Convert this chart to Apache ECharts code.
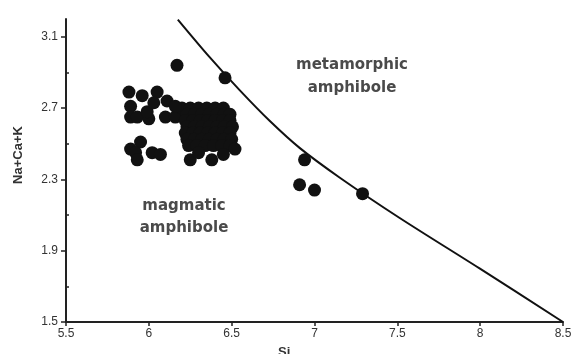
<!DOCTYPE html>
<html>
<head>
<meta charset="utf-8">
<script src="https://cdn.jsdelivr.net/npm/echarts@6/dist/echarts.min.js"></script>
<style>
  html, body { margin: 0; padding: 0; background: #fff; }
  #chart { width: 579px; height: 354px; }
</style>
</head>
<body>
<div id="chart"></div>
<script>
// Si vs Na+Ca+K amphibole samples
var samples = [
  [6.17, 2.94], [6.46, 2.87],
  // upper left group
  [5.88, 2.79], [5.96, 2.77], [6.05, 2.79], [6.11, 2.74], [5.89, 2.71],
  [5.89, 2.65], [5.93, 2.65], [6.0, 2.64], [5.99, 2.68], [6.10, 2.65],
  [6.16, 2.65], [6.20, 2.70], [6.03, 2.73], [6.16, 2.71],
  // lower left group
  [5.95, 2.51], [5.89, 2.47], [5.92, 2.45], [5.93, 2.41], [6.02, 2.45], [6.07, 2.44],
  // dense cluster
  [6.25, 2.70], [6.30, 2.70], [6.35, 2.70], [6.40, 2.70], [6.45, 2.70],
  [6.23, 2.665], [6.275, 2.665], [6.32, 2.665], [6.365, 2.665], [6.41, 2.665], [6.455, 2.665], [6.49, 2.665],
  [6.22, 2.63], [6.265, 2.63], [6.31, 2.63], [6.355, 2.63], [6.40, 2.63], [6.445, 2.63], [6.49, 2.63],
  [6.23, 2.595], [6.275, 2.595], [6.32, 2.595], [6.365, 2.595], [6.41, 2.595], [6.455, 2.595], [6.505, 2.595],
  [6.22, 2.56], [6.265, 2.56], [6.31, 2.56], [6.355, 2.56], [6.40, 2.56], [6.445, 2.56], [6.49, 2.56],
  [6.23, 2.525], [6.275, 2.525], [6.32, 2.525], [6.365, 2.525], [6.41, 2.525], [6.455, 2.525], [6.50, 2.525],
  [6.24, 2.49], [6.29, 2.49], [6.34, 2.49], [6.39, 2.49], [6.44, 2.49], [6.49, 2.49],
  [6.52, 2.47], [6.25, 2.41], [6.38, 2.41], [6.30, 2.45], [6.45, 2.44],
  // near the boundary
  [6.94, 2.41], [6.91, 2.27], [7.0, 2.24], [7.29, 2.22]
];

// boundary curve between magmatic and metamorphic fields
var boundary = [
  [6.175, 3.197], [6.367, 2.986], [6.548, 2.801], [6.729, 2.629], [6.91, 2.477],
  [7.151, 2.311], [7.512, 2.085], [7.994, 1.802], [8.5, 1.5]
];

var yLabels = [1.5, 1.9, 2.3, 2.7, 3.1];
var yMinor = [1.7, 2.1, 2.5, 2.9];

var chart = echarts.init(document.getElementById("chart"));

var option = {
  backgroundColor: "#fff",
  animation: false,
  grid: { left: 66, right: 16, top: 19, bottom: 32, containLabel: false },
  xAxis: {
    type: "value",
    min: 5.5,
    max: 8.5,
    interval: 0.5,
    splitLine: { show: false },
    axisLine: { onZero: false, lineStyle: { color: "#222", width: 2 } },
    axisTick: { show: true, length: 4, lineStyle: { color: "#222", width: 1.5 } },
    axisLabel: { color: "#333", fontSize: 12, fontFamily: "Liberation Sans", margin: 6 }
  },
  yAxis: [{
    type: "value",
    min: 1.5,
    max: 3.2,
    splitLine: { show: false },
    axisLine: { onZero: false, lineStyle: { color: "#222", width: 2 } },
    axisTick: { show: true, length: 5, customValues: yLabels, lineStyle: { color: "#222", width: 1.5 } },
    axisLabel: {
      color: "#333", fontSize: 12, fontFamily: "Liberation Sans", margin: 8,
      customValues: yLabels,
      formatter: function (v) { return v.toFixed(1); }
    }
  }, {
    type: "value",
    min: 1.5,
    max: 3.2,
    position: "left",
    splitLine: { show: false },
    axisLine: { show: false },
    axisTick: { show: true, inside: true, length: 3, customValues: yMinor, lineStyle: { color: "#222", width: 1.5 } },
    axisLabel: { show: false }
  }],
  series: [{
    type: "line",
    data: boundary,
    smooth: 0.3,
    showSymbol: false,
    lineStyle: { color: "#111", width: 2 },
    z: 2
  }, {
    type: "scatter",
    data: samples,
    symbolSize: 13,
    itemStyle: { color: "#111", opacity: 1 },
    z: 3
  }],
  graphic: [
    {
      type: "text", x: 352, y: 77,
      style: { text: "metamorphic\namphibole", fill: "#4a4a4a", font: "bold 15px DejaVu Sans",
               align: "center", verticalAlign: "middle", lineHeight: 23 }
    },
    {
      type: "text", x: 184, y: 217,
      style: { text: "magmatic\namphibole", fill: "#4a4a4a", font: "bold 15px DejaVu Sans",
               align: "center", verticalAlign: "middle", lineHeight: 22 }
    },
    {
      type: "text", x: 18, y: 155, rotation: Math.PI / 2,
      style: { text: "Na+Ca+K", fill: "#333", font: "bold 13px Liberation Sans",
               align: "center", verticalAlign: "middle" }
    },
    {
      type: "text", x: 278, y: 346,
      style: { text: "Si", fill: "#333", font: "bold 13px Liberation Sans" }
    }
  ]
};

chart.setOption(option);
</script>
</body>
</html>
